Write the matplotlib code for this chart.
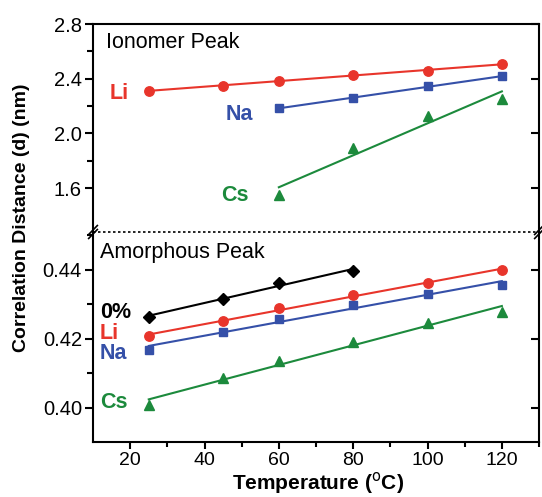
import numpy as np
import matplotlib
matplotlib.use("Agg")
import matplotlib.pyplot as plt
from matplotlib.lines import Line2D

plt.rcParams['font.family'] = ['Liberation Sans', 'DejaVu Sans']

# Ionomer peak (top panel)
temp_li = [25, 45, 60, 80, 100, 120]
ion_li = [2.31, 2.35, 2.385, 2.43, 2.46, 2.505]
temp_na = [60, 80, 100, 120]
ion_na = [2.185, 2.258, 2.346, 2.417]
temp_cs = [60, 80, 100, 120]
ion_cs = [1.554, 1.892, 2.13, 2.253]

# Amorphous peak (bottom panel)
temp_all = [25, 45, 60, 80, 100, 120]
temp_0 = [25, 45, 60, 80]
am_0 = [0.4264, 0.4315, 0.4363, 0.4397]
am_li = [0.4208, 0.4251, 0.4289, 0.4327, 0.4362, 0.4400]
am_na = [0.4168, 0.4219, 0.4258, 0.4298, 0.4330, 0.4356]
am_cs = [0.4008, 0.4085, 0.4135, 0.4190, 0.4245, 0.4279]

RED = '#e8352b'
BLUE = '#3550a8'
GREEN = '#1c8a3c'
BLACK = 'black'


def fit_plot(ax, x, y, color, marker, ms=6.8):
    x = np.asarray(x, float)
    y = np.asarray(y, float)
    k, b = np.polyfit(x, y, 1)
    ax.plot(x, y, linestyle='none', marker=marker, color=color, ms=ms, zorder=3)
    ax.plot([x[0], x[-1]], [k * x[0] + b, k * x[-1] + b], color=color, lw=1.5, zorder=2)


fig = plt.figure(figsize=(5.42, 4.97), dpi=100)
L, R = 0.1716, 0.9945
y_top, y_brk, y_bot = 0.9517, 0.5332, 0.1107
ax1 = fig.add_axes([L, y_brk, R - L, y_top - y_brk])
ax2 = fig.add_axes([L, y_bot, R - L, y_brk - y_bot])

# top panel
fit_plot(ax1, temp_li, ion_li, RED, 'o')
fit_plot(ax1, temp_na, ion_na, BLUE, 's', ms=6.3)
fit_plot(ax1, temp_cs, ion_cs, GREEN, '^')
ax1.set_xlim(10, 130)
ax1.set_ylim(1.28, 2.8)
ax1.set_yticks([1.6, 2.0, 2.4, 2.8])
ax1.set_yticks([1.8, 2.2, 2.6], minor=True)
ax1.set_xticks([])

# bottom panel
fit_plot(ax2, temp_0, am_0, BLACK, 'D', ms=5.8)
fit_plot(ax2, temp_all, am_li, RED, 'o')
fit_plot(ax2, temp_all, am_na, BLUE, 's', ms=6.3)
fit_plot(ax2, temp_all, am_cs, GREEN, '^')
ax2.set_xlim(10, 130)
ax2.set_ylim(0.39, 0.451)
ax2.set_yticks([0.40, 0.42, 0.44])
ax2.set_yticks([0.41, 0.43, 0.45], minor=True)
ax2.set_xticks([20, 40, 60, 80, 100, 120])
ax2.set_xticks([30, 50, 70, 90, 110, 130], minor=True)

for ax in (ax1, ax2):
    for s in ax.spines.values():
        s.set_linewidth(1.5)
    ax.tick_params(axis='y', which='major', direction='out', length=6, width=1.5,
                   labelsize=14.5, right=True, pad=2)
    ax.tick_params(axis='y', which='minor', direction='out', length=4, width=1.5)
ax1.spines['bottom'].set_visible(False)
ax2.spines['top'].set_visible(False)
ax2.tick_params(axis='x', which='major', direction='out', length=5, width=1.5,
                labelsize=14, pad=2)
ax2.tick_params(axis='x', which='minor', direction='out', length=3.5, width=1.5)

# right ticks point inward
for ax in (ax1, ax2):
    for t in ax.yaxis.get_major_ticks():
        t.tick2line.set_marker(matplotlib.lines.TICKLEFT)
        t.tick2line.set_markersize(6)

# panel titles and labels
ax1.text(13.5, 2.624, 'Ionomer Peak', fontsize=15.5, va='baseline')
ax2.text(12, 0.4434, 'Amorphous Peak', fontsize=15.5, va='baseline')
bold = dict(fontsize=15.5, fontweight='bold', ha='left', va='center')
ax1.text(14.6, 2.294, 'Li', color=RED, **bold)
ax1.text(45.8, 2.139, 'Na', color=BLUE, **bold)
ax1.text(44.5, 1.549, 'Cs', color=GREEN, **bold)
ax2.text(11.8, 0.4276, '0%', color=BLACK, **bold)
ax2.text(11.8, 0.4214, 'Li', color=RED, **bold)
ax2.text(11.8, 0.4156, 'Na', color=BLUE, **bold)
ax2.text(11.8, 0.4016, 'Cs', color=GREEN, **bold)

fig.text(0.586, 0.015, 'Temperature ($^{\\rm o}$C)', fontsize=15, fontweight='bold',
         ha='center', va='baseline')
fig.text(0.04, 0.561, 'Correlation Distance (d) (nm)', rotation=90,
         fontsize=14, fontweight='bold', ha='center', va='center')

# break: dotted line and slashes
fig.add_artist(Line2D([L, R], [y_brk, y_brk], transform=fig.transFigure,
                      color='black', lw=1.2, ls=(0, (1.5, 1.5))))
dx, dy = 0.008, 0.009
for xx in (L, R):
    for off in (0.004, -0.004):
        fig.add_artist(Line2D([xx - dx, xx + dx], [y_brk + off - dy, y_brk + off + dy],
                              transform=fig.transFigure, color='black', lw=1.2))

fig.savefig('out.png', dpi=100)
